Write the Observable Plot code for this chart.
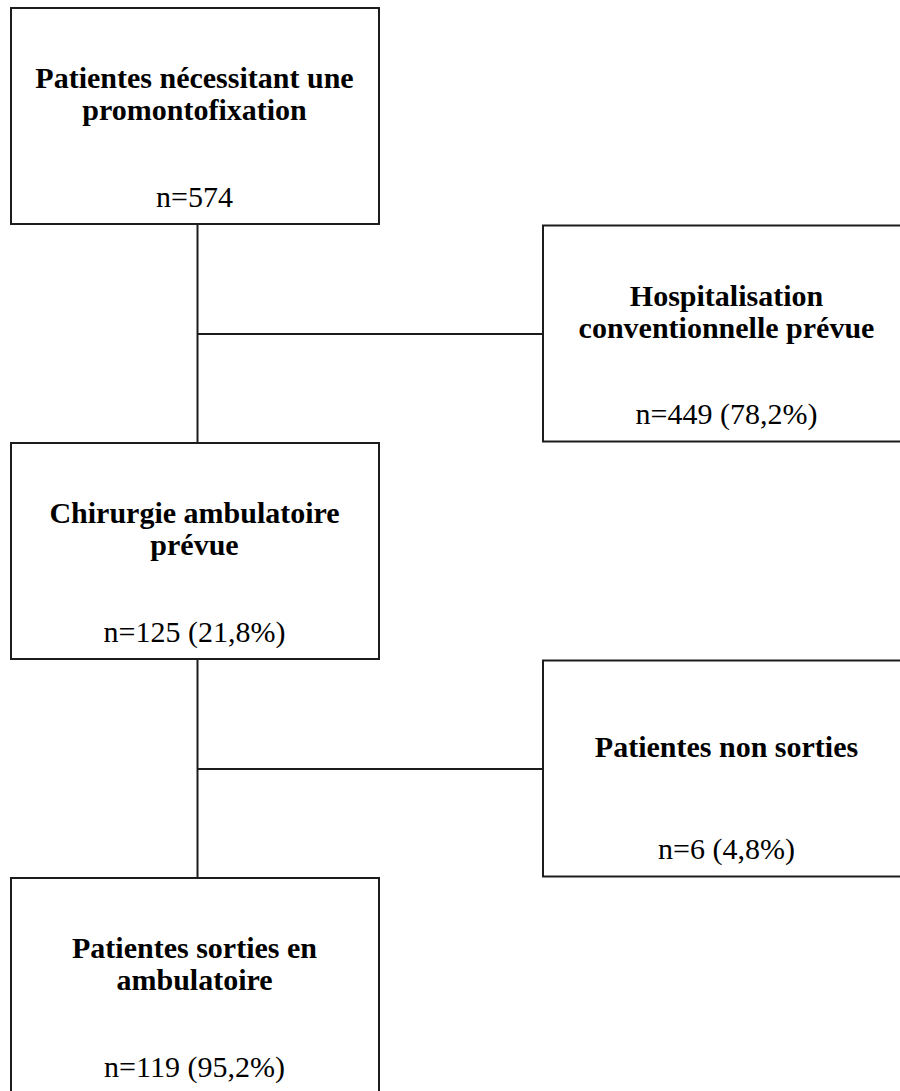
<!DOCTYPE html>
<html>
<head>
<meta charset="utf-8">
<script src="https://cdn.jsdelivr.net/npm/d3@7"></script>
<script src="https://cdn.jsdelivr.net/npm/@observablehq/plot@0.6"></script>
<style>
  html, body { margin: 0; padding: 0; background: #ffffff; }
  #chart svg { display: block; }
</style>
</head>
<body>
<div id="chart"></div>
<script>
// ---- Data ----
const titles = [
  "Patientes nécessitant une\npromontofixation",
  "Hospitalisation\nconventionnelle prévue",
  "Chirurgie ambulatoire\nprévue",
  "Patientes non sorties",
  "Patientes sorties en\nambulatoire"
];
const counts = [574, 449, 125, 6, 119];
const percents = [null, 78.2, 21.8, 4.8, 95.2];
// flow structure: level (row) and branch side (0 = main, 1 = excluded)
const levels = [0, 1, 2, 3, 4];
const sides = [0, 1, 0, 1, 0];
// main-trunk links (from node -> to node) and side branches (trunk -> node)
const trunkLinks = [[0, 2], [2, 4]];
const branchNodes = [1, 3];

// ---- Layout ----
const W = 900, H = 1091;
const colLeft = [11, 543];
const boxW = 368, boxH = 216;
const rowTop0 = 8, rowStep = 217.5;
const trunkX = 197;
const fontSize = 30;
const ink = "#1c1c1c";

const fmtPct = v => d3.format(".1f")(v).replace(".", ",");

const nodes = titles.map((t, i) => {
  const x1 = colLeft[sides[i]];
  const y1 = rowTop0 + levels[i] * rowStep;
  return {
    title: t,
    label: percents[i] == null ? `n=${counts[i]}` : `n=${counts[i]} (${fmtPct(percents[i])}%)`,
    x1, x2: x1 + boxW, y1, y2: y1 + boxH,
    cx: x1 + boxW / 2 - 1
  };
});

const trunk = trunkLinks.map(([a, b]) => ({x: trunkX, y1: nodes[a].y2, y2: nodes[b].y1}));
const branches = branchNodes.map(i => ({y: (nodes[i - 1].y2 + nodes[i + 1].y1) / 2, x1: trunkX, x2: nodes[i].x1}));

const chart = Plot.plot({
  width: W,
  height: H,
  margin: 0,
  x: {type: "linear", domain: [0, W], range: [0, W], axis: null},
  y: {type: "linear", domain: [0, H], range: [0, H], axis: null},
  style: {background: "#ffffff"},
  marks: [
    Plot.ruleX(trunk, {x: "x", y1: "y1", y2: "y2", stroke: ink, strokeWidth: 2}),
    Plot.ruleY(branches, {y: "y", x1: "x1", x2: "x2", stroke: ink, strokeWidth: 2}),
    Plot.rect(nodes, {x1: "x1", x2: "x2", y1: "y1", y2: "y2", fill: "#ffffff", stroke: ink, strokeWidth: 2}),
    Plot.text(nodes, {
      x: "cx", y: d => d.y1 + 85.4, text: "title",
      lineAnchor: "middle", lineHeight: 1.07,
      fontFamily: "'Liberation Serif', 'Times New Roman', Times, serif",
      fontWeight: "bold", fontSize, fill: "#000000", textAnchor: "middle"
    }),
    Plot.text(nodes, {
      x: "cx", y: d => d.y1 + 188.4, text: "label",
      lineAnchor: "middle",
      fontFamily: "'Liberation Serif', 'Times New Roman', Times, serif",
      fontSize, fill: "#000000", textAnchor: "middle"
    })
  ]
});
document.getElementById("chart").appendChild(chart);
</script>
</body>
</html>
